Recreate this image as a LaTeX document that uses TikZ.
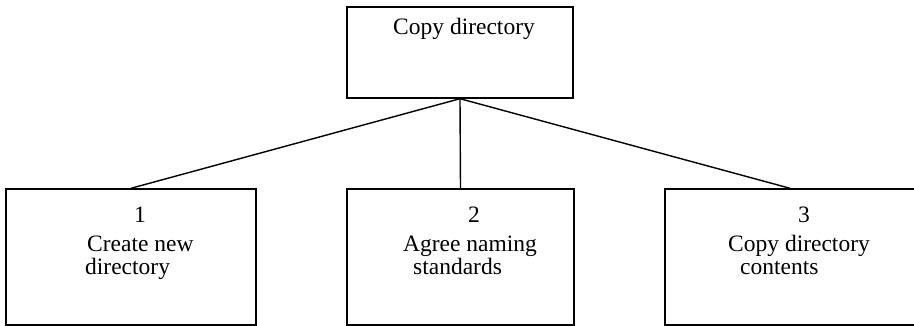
\documentclass[tikz,border=0pt]{standalone}
\usepackage{fontspec}
\setmainfont{Liberation Serif}
\begin{document}
\begin{tikzpicture}[x=1pt,y=1pt,
  box/.style={draw=black,line width=1.4pt,inner sep=0pt},
  lbl/.style={inner sep=0pt,font=\fontsize{23.5}{20}\selectfont,anchor=base west},
  num/.style={inner sep=0pt,font=\fontsize{23.5}{20}\selectfont,anchor=base},
  conn/.style={line width=1.4pt}]
\useasboundingbox (0,0) rectangle (914,326);
\node[box,minimum width=226pt,minimum height=91pt] (top) at (460,273.5) {};
\node[box,minimum width=250pt,minimum height=136pt] (b1) at (131,69) {};
\node[box,minimum width=227pt,minimum height=136pt] (b2) at (460.5,69) {};
\node[box,minimum width=250pt,minimum height=136pt] (b3) at (790,69) {};
\node[lbl] (t0) at (393,291) {Copy directory};
\node[num] (n1) at (140,103) {1};
\node[lbl] (t1a) at (87,74) {Create new};
\node[lbl] (t1b) at (85,51) {directory};
\node[num] (n2) at (474,103) {2};
\node[lbl] (t2a) at (403,74) {Agree naming};
\node[lbl] (t2b) at (413,51) {standards};
\node[num] (n3) at (804,103) {3};
\node[lbl] (t3a) at (728,74) {Copy directory};
\node[lbl] (t3b) at (740,51) {contents};
\draw[conn] (top.south) -- (b1.north);
\draw[conn] (top.south) -- (b2.north);
\draw[conn] (top.south) -- (b3.north);
\end{tikzpicture}
\end{document}
